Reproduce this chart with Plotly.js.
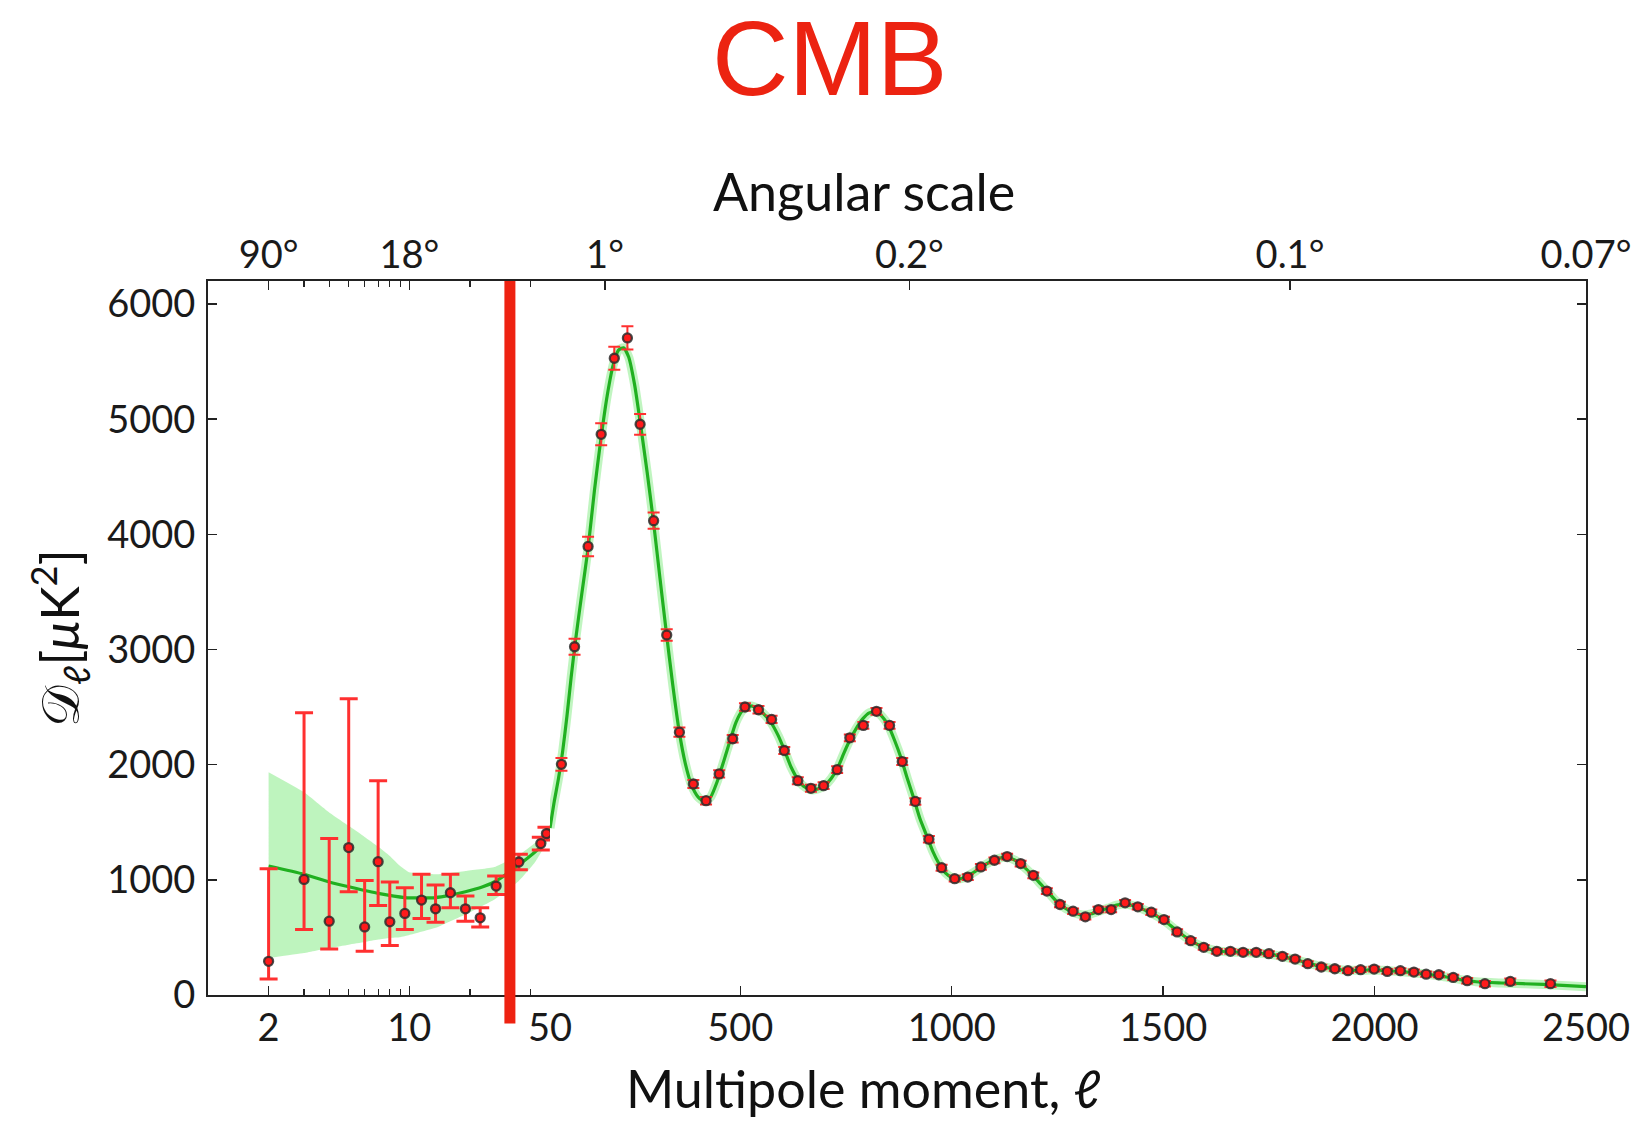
<!DOCTYPE html>
<html><head><meta charset="utf-8">
<script src="https://cdn.plot.ly/plotly-3.0.1.min.js"></script>
<style>html,body{margin:0;padding:0;background:#fff}</style>
</head><body>
<div id="chart" style="width:1634px;height:1124px"></div>
<script>
// ---- Low-ell data points (log part of the axis) ----
const lowEll = [2,3,4,5,6,7,8,9.5,11.5,13.5,16,19,22.5,27,35,45,48];
const lowDl = [292,1004,641,1280,591,1158,635,708,824,748,888,748,670,946,1155,1315,1402];
const lowErrUp = [805,1447,718,1293,404,703,346,223,224,207,160,111,87,87,68,55,55];
const lowErrDown = [154,436,241,384,212,381,206,140,160,116,131,107,79,73,68,55,55];

// ---- High-ell binned data points (linear part of the axis) ----
const highEll = [77,108,140,171,202,233,263,295,326,356,389,419,450,482,511,543,574,604,636,667,697,729,759,791,822,853,883,914,946,976,1007,1038,1069,1101,1131,1163,1193,1225,1256,1287,1316,1347,1377,1410,1440,1472,1502,1533,1565,1596,1627,1659,1689,1720,1750,1782,1812,1842,1874,1906,1937,1967,1999,2030,2061,2093,2122,2152,2186,2219,2261,2321,2416];
const highDl = [2003,3024,3895,4869,5529,5706,4956,4119,3126,2282,1832,1687,1920,2225,2501,2477,2393,2123,1861,1795,1818,1957,2233,2341,2463,2341,2027,1681,1353,1106,1010,1024,1112,1170,1202,1141,1039,902,786,728,679,742,742,800,766,719,655,548,472,414,379,379,371,371,359,336,312,272,243,228,211,220,225,205,211,199,181,176,153,124,98,118,98];
const highErr = [55,70,85,95,100,100,90,70,50,40,35,32,32,32,32,32,32,30,30,30,30,30,30,30,30,30,30,28,28,26,25,25,25,25,25,25,25,24,24,24,24,24,24,24,24,24,24,22,22,20,20,20,20,20,20,20,20,20,20,20,20,20,20,20,22,22,22,22,22,24,24,26,28];

// ---- Best-fit model curve ----
const modelEll = [2,3,4,5,7,9.5,13.5,16,19,23,27,35,45,50,60,70,80,90,100,110,125,140,155,170,185,200,212,224,236,250,265,280,295,310,325,340,355,370,385,400,415,430,445,460,475,490,505,520,535,550,570,590,605,620,640,655,670,685,700,715,730,745,760,775,790,805,820,835,850,865,880,895,910,925,940,955,970,985,1000,1015,1030,1050,1070,1090,1110,1130,1150,1170,1190,1210,1230,1250,1270,1290,1310,1330,1350,1370,1390,1410,1430,1450,1470,1490,1510,1530,1550,1570,1590,1610,1630,1660,1690,1720,1750,1780,1810,1840,1870,1900,1930,1960,1990,2020,2050,2080,2110,2140,2170,2200,2240,2300,2400,2500];
const modelDl = [1120,1048,981,940,882,846,846,867,896,937,990,1130,1290,1450,1680,1880,2120,2420,2760,3070,3480,3880,4380,4820,5200,5480,5600,5620,5540,5300,4930,4530,4100,3620,3150,2700,2300,2010,1820,1720,1680,1720,1850,2020,2200,2370,2470,2510,2500,2460,2380,2250,2120,1980,1850,1800,1780,1790,1820,1880,1970,2100,2220,2320,2400,2450,2460,2420,2340,2210,2060,1880,1710,1530,1390,1250,1140,1060,1020,1008,1018,1060,1110,1155,1185,1195,1170,1115,1045,965,885,805,750,715,695,705,730,755,780,790,775,748,715,675,625,565,510,462,425,398,382,374,370,364,354,336,310,280,250,230,216,214,218,214,206,198,186,172,156,136,115,104,92,72];

// ---- Cosmic-variance band (low ell) ----
const bandEll = [2,3,4,5,6,7,8,9,10,13.5,16,19,26.5,35,42,50];
const bandHigh = [1934,1760,1585,1469,1373,1289,1207,1120,1065,1048,1060,1077,1112,1216,1320,1480];
const bandLow = [321,364,408,437,460,481,495,501,520,583,641,699,830,990,1150,1370];

// ---- Tick labels ----
const logTickVals = [2,10];
const logTickText = ['2','10'];
const logMinorTicks = [3,4,5,6,7,8,9,20,30,40,50];
const linTickVals = [50,500,1000,1500,2000,2500];
const angLogTickVals = [2,10];
const angLogTickText = ['90°','18°'];
const angLinTickVals = [180,900,1800,2500];
const angLinTickText = ['1°','0.2°','0.1°','0.07°'];
const yTickVals = [0,1000,2000,3000,4000,5000,6000];
const markedEll = 31.6;   // hand-drawn red line position

const SPLIT = 50;
const F = 0.2482;
const LOGMAX = Math.log10(SPLIT);

const mLowX = [], mLowY = [], mHighX = [], mHighY = [];
modelEll.forEach((l, i) => {
  if (l <= SPLIT) { mLowX.push(l); mLowY.push(modelDl[i]); }
  if (l >= SPLIT) { mHighX.push(l); mHighY.push(modelDl[i]); }
});

const GREEN = '#20b020';
const HALO = 'rgba(150,238,150,0.6)';
const ERR = '#ff3030';
const mk = {color:'#ff1a1a', size:9, line:{color:'rgba(45,45,45,0.85)', width:2.3}};

const traces = [
  {x: bandEll, y: bandHigh, xaxis:'x', yaxis:'y', mode:'lines', line:{width:0, color:'rgba(0,0,0,0)', shape:'spline', smoothing:0.4}, hoverinfo:'skip'},
  {x: bandEll, y: bandLow, xaxis:'x', yaxis:'y', mode:'lines', line:{width:0, color:'rgba(0,0,0,0)', shape:'spline', smoothing:0.4}, fill:'tonexty', fillcolor:'rgba(150,238,150,0.62)', hoverinfo:'skip'},
  {x: mHighX, y: mHighY, xaxis:'x2', yaxis:'y2', mode:'lines', line:{color:HALO, width:9, shape:'spline', smoothing:0.6}, hoverinfo:'skip'},
  {x: mLowX, y: mLowY, xaxis:'x', yaxis:'y', mode:'lines', line:{color:GREEN, width:3.2, shape:'spline', smoothing:0.6}},
  {x: mHighX, y: mHighY, xaxis:'x2', yaxis:'y2', mode:'lines', line:{color:GREEN, width:3.2, shape:'spline', smoothing:0.6}},
  {x: lowEll, y: lowDl, xaxis:'x', yaxis:'y', mode:'markers', marker: mk,
   error_y:{type:'data', symmetric:false, array: lowErrUp, arrayminus: lowErrDown, color: ERR, thickness:3, width:9}},
  {x: highEll, y: highDl, xaxis:'x2', yaxis:'y2', mode:'markers', marker: mk,
   error_y:{type:'data', array: highErr, color: ERR, thickness:2, width:6}},
  // invisible carriers so the top (angular-scale) axes get drawn
  {x: angLogTickVals, y: angLogTickVals.map(() => yTickVals[0]), xaxis:'x3', yaxis:'y', mode:'markers', marker:{opacity:0}, hoverinfo:'skip'},
  {x: angLinTickVals, y: angLinTickVals.map(() => yTickVals[0]), xaxis:'x4', yaxis:'y2', mode:'markers', marker:{opacity:0}, hoverinfo:'skip'}
];

const axCommon = {showgrid:false, zeroline:false, tickcolor:'#222', linecolor:'#222', tickfont:{family:'Lato, sans-serif', size:38, color:'#1a1a1a'}};

const layout = {
  width:1634, height:1124,
  margin:{l:208, r:48, t:281, b:129, pad:0},
  paper_bgcolor:'#ffffff', plot_bgcolor:'#ffffff',
  showlegend:false,
  font:{family:'Lato, sans-serif', size:38, color:'#1a1a1a'},
  xaxis: Object.assign({}, axCommon, {
    type:'log', domain:[0,F], range:[0, LOGMAX], anchor:'y',
    tickmode:'array', tickvals: logTickVals, ticktext: logTickText,
    ticks:'inside', ticklen:9, tickwidth:1.5,
    minor:{tickmode:'array', tickvals: logMinorTicks, ticks:'inside', ticklen:6, tickwidth:1.2, tickcolor:'#222', showgrid:false},
    showline:true, linewidth:2, mirror:'ticks', ticklabelstandoff:-2
  }),
  xaxis2: Object.assign({}, axCommon, {
    type:'linear', domain:[F,1], range:[SPLIT, 2500], anchor:'y2',
    tickmode:'array', tickvals: linTickVals,
    ticks:'inside', ticklen:9, tickwidth:1.5,
    showline:true, linewidth:2, mirror:true, ticklabelstandoff:-2
  }),
  xaxis3: Object.assign({}, axCommon, {
    type:'log', domain:[0,F], range:[0, LOGMAX], anchor:'y', overlaying:'x', side:'top',
    tickmode:'array', tickvals: angLogTickVals, ticktext: angLogTickText,
    ticks:'', showline:false, ticklabelstandoff:4
  }),
  xaxis4: Object.assign({}, axCommon, {
    type:'linear', domain:[F,1], range:[SPLIT, 2500], anchor:'y2', overlaying:'x2', side:'top',
    tickmode:'array', tickvals: angLinTickVals, ticktext: angLinTickText,
    ticks:'inside', ticklen:9, tickwidth:1.5, showline:false, ticklabelstandoff:4
  }),
  yaxis: Object.assign({}, axCommon, {
    range:[0,6200], domain:[0,1], anchor:'x', side:'left',
    tickmode:'array', tickvals: yTickVals,
    ticks:'inside', ticklen:9, tickwidth:1.5,
    showline:true, linewidth:2, ticklabelstandoff:3
  }),
  yaxis2: Object.assign({}, axCommon, {
    range:[0,6200], domain:[0,1], anchor:'x2', side:'right',
    tickmode:'array', tickvals: yTickVals, showticklabels:false,
    ticks:'inside', ticklen:9, tickwidth:1.5,
    showline:true, linewidth:2
  }),
  shapes:[
    {type:'line', xref:'x', yref:'paper', x0:markedEll, x1:markedEll, y0:-0.04, y1:1.0,
     line:{color:'#ee2211', width:11}, layer:'above'}
  ],
  annotations:[
    {text:'CMB', xref:'paper', yref:'paper', x:0.4514, y:1.312, xanchor:'center', yanchor:'middle', showarrow:false,
     font:{family:'Liberation Sans, Arial, sans-serif', size:106, color:'#ec2311'}},
    {text:'Angular scale', xref:'paper', yref:'paper', x:0.476, y:1.126, xanchor:'center', yanchor:'middle', showarrow:false,
     font:{family:'Lato, sans-serif', size:52, color:'#111'}},
    {text:'Multipole moment, <i>ℓ</i>', xref:'paper', yref:'paper', x:0.476, y:-0.13, xanchor:'center', yanchor:'middle', showarrow:false,
     font:{family:'Lato, sans-serif', size:52, color:'#111'}},
    {text:'𝒟<sub>ℓ</sub>[<i>μ</i>K<sup>2</sup>]', xref:'paper', yref:'paper', x:-0.108, y:0.5, xanchor:'center', yanchor:'middle', textangle:-90, showarrow:false,
     font:{family:'Lato, DejaVu Sans, sans-serif', size:52, color:'#111'}}
  ]
};

Plotly.newPlot('chart', traces, layout, {displayModeBar:false, staticPlot:true});
</script>
</body></html>
